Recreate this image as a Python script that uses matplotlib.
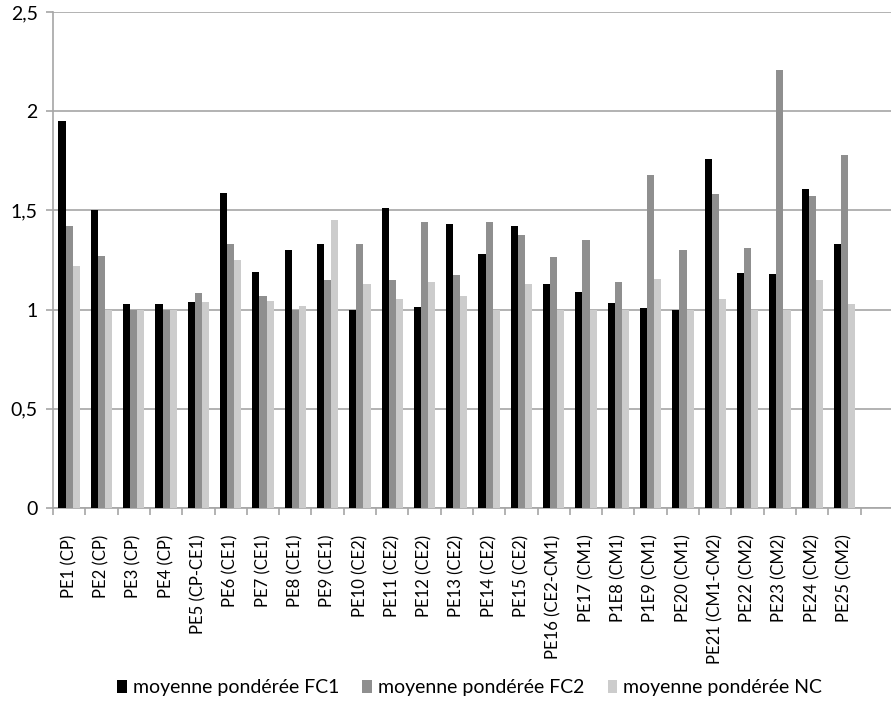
import matplotlib

matplotlib.use("Agg")
import matplotlib.pyplot as plt
import numpy as np
from matplotlib.ticker import FixedLocator, FuncFormatter

plt.rcParams["font.family"] = ["Lato", "DejaVu Sans"]

# Categories (x axis)
categories = [
    "PE1 (CP)", "PE2 (CP)", "PE3 (CP)", "PE4 (CP)", "PE5 (CP-CE1)",
    "PE6 (CE1)", "PE7 (CE1)", "PE8 (CE1)", "PE9 (CE1)", "PE10 (CE2)",
    "PE11 (CE2)", "PE12 (CE2)", "PE13 (CE2)", "PE14 (CE2)", "PE15 (CE2)",
    "PE16 (CE2-CM1)", "PE17 (CM1)", "P1E8 (CM1)", "P1E9 (CM1)", "PE20 (CM1)",
    "PE21 (CM1-CM2)", "PE22 (CM2)", "PE23 (CM2)", "PE24 (CM2)", "PE25 (CM2)",
]

# Series values
fc1 = [1.95, 1.50, 1.03, 1.03, 1.04, 1.59, 1.19, 1.30, 1.33, 1.00,
       1.51, 1.015, 1.43, 1.28, 1.42, 1.13, 1.09, 1.035, 1.01, 1.00,
       1.76, 1.185, 1.18, 1.61, 1.33]
fc2 = [1.42, 1.27, 1.00, 1.00, 1.085, 1.33, 1.07, 1.00, 1.15, 1.33,
       1.15, 1.44, 1.175, 1.44, 1.375, 1.265, 1.35, 1.14, 1.68, 1.30,
       1.585, 1.31, 2.21, 1.575, 1.78]
nc = [1.22, 1.00, 1.00, 1.00, 1.04, 1.25, 1.045, 1.02, 1.45, 1.13,
      1.055, 1.14, 1.07, 1.00, 1.13, 1.00, 1.00, 1.00, 1.155, 1.00,
      1.055, 1.00, 1.00, 1.15, 1.03]

series = [
    ("moyenne pondérée FC1", fc1, "#000000"),
    ("moyenne pondérée FC2", fc2, "#8f8f8f"),
    ("moyenne pondérée NC", nc, "#cccccc"),
]

fig = plt.figure(figsize=(8.91, 7.08), dpi=100)
ax = fig.add_axes((53 / 891, 1 - 508 / 708, 838 / 891, 496 / 708))

x = np.arange(len(categories))
width = 0.22
for i, (label, vals, color) in enumerate(series):
    ax.bar(x + (i - 1) * width, vals, width=width, color=color, label=label, zorder=3)

ax.set_xlim(-0.5, 25.44)
ax.set_ylim(0, 2.5)
ax.set_yticks([0, 0.5, 1, 1.5, 2, 2.5])
ax.yaxis.set_major_formatter(FuncFormatter(lambda v, _: f"{v:g}".replace(".", ",")))
ax.grid(axis="y", color="#a6a6a6", linewidth=1.2, zorder=0)

ax.set_xticks(x)
ax.set_xticklabels(categories, rotation=90, fontsize=12, va="top", ha="center")
ax.tick_params(axis="x", which="major", length=0, pad=19)
ax.xaxis.set_minor_locator(FixedLocator(np.arange(-0.5, 25, 1.0)))
ax.tick_params(axis="x", which="minor", length=5, color="#a6a6a6", width=1.2)
ax.tick_params(axis="y", length=5, color="#a6a6a6", width=1.2, labelsize=14, pad=6)

for side in ("top", "right"):
    ax.spines[side].set_visible(False)
for side in ("left", "bottom"):
    ax.spines[side].set_color("#a6a6a6")
    ax.spines[side].set_linewidth(1.2)

fig.legend(
    loc="center",
    bbox_to_anchor=(0.527, 1 - 688 / 708),
    ncol=3,
    frameon=False,
    fontsize=14,
    handlelength=0.5,
    handleheight=0.65,
    handletextpad=0.3,
    columnspacing=1.2,
)

fig.savefig("out.png", dpi=100)
